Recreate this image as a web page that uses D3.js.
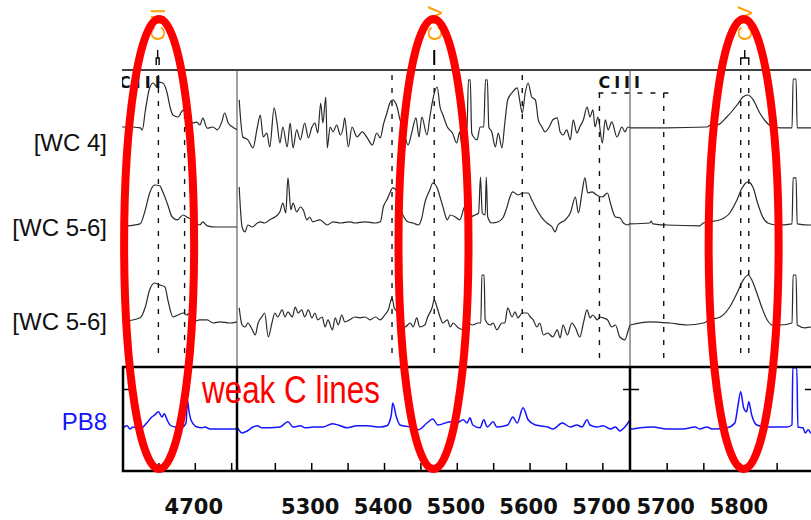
<!DOCTYPE html>
<head>
    <meta charset="utf-8">
    <title>[WC] spectra - weak C lines</title>
    <style>
        body { margin: 0; background: #fff; }
        svg { display: block; font-family: 'Liberation Sans', Arial, sans-serif; }
        .spec { fill: none; stroke: #2a2a2a; stroke-width: 1.2; }
        .pb8 { fill: none; stroke: #1414ff; stroke-width: 1.5; }
        .dash { stroke: #111; stroke-width: 1.4; stroke-dasharray: 5,8; }
        .xaxis text { font-family: 'DejaVu Sans', sans-serif; font-size: 21px; font-weight: bold; fill: #111; }
        .xaxis line, .yaxis line { stroke: #000; stroke-width: 1.5; }
        .ion { font: bold 16px 'DejaVu Sans', sans-serif; letter-spacing: 4px; fill: #111; }
    </style>
</head>
<body>

<svg width="811" height="520"></svg>

<script src="https://d3js.org/d3.v7.min.js"></script>

<script>

// wavelength windows (Angstrom) of the three cuts
var segments = [[4600, 4758], [5198, 5738], [5650, 5900]];
var tickWaves = [[4650, 4700, 4750],
    [5250, 5300, 5350, 5400, 5450, 5500, 5550, 5600, 5650, 5700],
    [5700, 5750, 5800, 5850]];
var rowLabels = ['[WC 4]', '[WC 5-6]', '[WC 5-6]'];
var pb8Label = 'PB8';

// line identifications: [segment, wavelength]
var dashedLines = [[0, 4650], [0, 4686], [1, 5411], [1, 5469], [1, 5590], [1, 5696], [2, 5696], [2, 5801], [2, 5812]];
var markSeg = [0, 1, 2];
var markWaves = [[4647, 4651], [5469], [5801, 5812]];
var markIons = ['CIII', 'CIV', 'CIV'];
var circled = [[0, 4651], [1, 5468], [2, 5805]];

// normalised flux, continuum = 1
var wc4Seg1 = [[4600,1.0],[4612,1.0],[4625,0.98],[4628,0.93],[4632,1.4],[4638,1.98],[4643,2.1],[4648,2.0],[4650,2.12],[4656,2.1],[4662,1.85],[4666,1.5],[4670,1.3],[4677,1.25],[4684,1.42],[4689,1.22],[4696,1.1],[4703,1.12],[4707,1.05],[4711,1.22],[4717,0.97],[4725,1.0],[4731,0.93],[4737,1.12],[4741,1.35],[4746,1.1],[4752,1.0],[4758,0.93]];
var wc4Seg2 = [[5201,1.68],[5206,0.75],[5213,0.68],[5220,0.48],[5226,1.0],[5230,1.3],[5234,0.75],[5239,0.85],[5243,0.5],[5249,1.48],[5253,1.1],[5257,0.6],[5261,1.0],[5267,0.5],[5271,1.1],[5275,0.48],[5280,0.93],[5285,0.68],[5291,1.1],[5296,0.73],[5301,1.0],[5305,1.1],[5309,0.85],[5313,1.6],[5316,1.1],[5320,1.75],[5322,0.48],[5326,1.0],[5330,0.88],[5335,1.05],[5340,0.8],[5344,1.0],[5346,1.23],[5351,0.5],[5356,1.0],[5363,0.75],[5370,0.88],[5377,0.73],[5384,0.55],[5390,0.85],[5395,0.73],[5399,1.05],[5404,1.35],[5408,1.6],[5412,1.68],[5418,1.5],[5422,1.18],[5426,1.0],[5433,0.55],[5438,0.85],[5444,1.23],[5448,0.75],[5452,1.25],[5459,0.8],[5463,1.25],[5467,1.68],[5473,2.0],[5477,1.5],[5481,1.3],[5487,1.0],[5494,0.85],[5500,0.6],[5504,0.88],[5507,0.55],[5511,0.93],[5514,0.93],[5516,2.18],[5518.5,2.18],[5520.5,0.85],[5523,0.75],[5528,0.68],[5532,1.0],[5537,1.0],[5539.5,2.18],[5542,2.18],[5544,1.0],[5548,0.88],[5553,0.5],[5557,0.85],[5562,0.48],[5566,1.1],[5570,1.68],[5577,1.88],[5583,1.98],[5587,1.6],[5590,1.35],[5594,1.85],[5598,2.1],[5603,1.75],[5608,1.68],[5612,1.18],[5617,1.0],[5621,0.88],[5627,1.0],[5632,1.18],[5638,1.23],[5642,0.88],[5646,0.8],[5651,0.93],[5656,0.68],[5660,1.18],[5665,0.85],[5669,1.0],[5674,1.18],[5679,1.5],[5683,1.25],[5687,1.43],[5690,1.0],[5694,1.25],[5700,0.6],[5704,1.18],[5708,0.93],[5713,1.13],[5720,0.75],[5727,1.0],[5731,0.88],[5735,1.0],[5738,0.98]];
var wc4Seg3 = [[5650,0.98],[5700,0.98],[5755,1.0],[5760,1.05],[5769,1.05],[5782,1.25],[5796,1.55],[5804,1.75],[5811,1.8],[5818,1.68],[5827,1.35],[5837,1.1],[5844,1.0],[5855,0.98],[5871,0.98],[5872.5,2.2],[5876.5,2.2],[5878,0.98],[5900,0.98]];

var wc56aSeg1 = [[4600,1.02],[4625,1.08],[4632,1.43],[4638,1.85],[4645,2.05],[4652,2.03],[4656,1.88],[4662,1.6],[4669,1.25],[4676,1.18],[4684,1.3],[4691,1.23],[4696,1.18],[4703,1.08],[4707,1.05],[4711,1.13],[4717,1.03],[4730,1.0],[4745,1.0],[4758,1.0]];
var wc56aSeg2 = [[5201,2.0],[5205,1.0],[5209,0.88],[5213,1.05],[5219,1.0],[5226,1.1],[5230,1.13],[5236,1.1],[5243,1.18],[5250,1.25],[5257,1.38],[5261,1.6],[5265,1.35],[5268,2.23],[5272,1.43],[5275,1.6],[5280,1.38],[5285,1.5],[5289,1.43],[5294,1.18],[5298,1.25],[5302,1.13],[5312,1.18],[5322,1.05],[5330,1.13],[5340,1.1],[5353,1.13],[5360,1.1],[5374,1.13],[5388,1.1],[5395,1.13],[5399,1.5],[5404,1.68],[5408,1.85],[5412,1.98],[5418,1.88],[5422,1.5],[5426,1.3],[5433,1.13],[5440,1.1],[5447,1.05],[5452,1.23],[5456,1.6],[5463,1.93],[5467,2.1],[5473,1.98],[5477,1.75],[5481,1.5],[5487,1.18],[5491,1.3],[5498,1.25],[5504,1.18],[5510,1.48],[5514,1.6],[5518,1.25],[5525,1.3],[5530,1.35],[5532.5,2.25],[5535,1.35],[5539,1.3],[5540.5,2.25],[5542.5,1.25],[5548,1.1],[5557,1.13],[5564,1.25],[5569,1.5],[5573,1.75],[5577,1.88],[5584,1.8],[5591,1.85],[5598,1.85],[5603,1.68],[5610,1.43],[5617,1.23],[5624,1.1],[5631,1.0],[5635,0.88],[5639,1.05],[5649,1.18],[5656,1.35],[5663,1.75],[5667,1.35],[5672,1.85],[5676,2.23],[5680,1.85],[5686,1.88],[5692,1.8],[5700,1.75],[5707,1.85],[5711,1.6],[5718,1.25],[5724,1.23],[5729,1.1],[5735,1.05],[5738,1.1]];
var wc56aSeg3 = [[5650,1.08],[5677,1.1],[5679,1.15],[5681,1.08],[5700,1.05],[5745,1.03],[5750,1.1],[5773,1.18],[5786,1.35],[5796,1.68],[5803,1.98],[5811,2.13],[5818,1.98],[5824,1.6],[5831,1.25],[5838,1.1],[5850,1.05],[5871,1.08],[5872.5,2.23],[5876.5,2.23],[5878,1.08],[5897,1.05],[5900,1.05]];

var wc56bSeg1 = [[4600,1.03],[4625,1.13],[4632,1.4],[4638,1.83],[4645,2.0],[4652,1.95],[4659,1.9],[4663,1.58],[4670,1.15],[4677,1.2],[4684,1.25],[4689,1.2],[4693,1.25],[4698,1.03],[4707,1.08],[4717,1.08],[4725,1.0],[4735,1.03],[4748,1.0],[4758,1.03]];
var wc56bSeg2 = [[5201,1.38],[5205,0.95],[5209,0.9],[5213,1.0],[5219,0.83],[5223,0.7],[5227,1.0],[5232,1.15],[5236,1.25],[5241,0.65],[5246,1.0],[5250,1.25],[5254,1.15],[5260,1.33],[5264,1.15],[5268,1.28],[5274,1.15],[5278,1.4],[5282,1.25],[5287,1.33],[5291,1.15],[5296,1.33],[5301,1.13],[5305,1.25],[5309,1.08],[5315,1.15],[5319,0.9],[5323,1.08],[5329,0.83],[5333,1.13],[5337,0.95],[5342,1.2],[5346,1.03],[5353,1.08],[5360,1.15],[5367,1.13],[5374,1.15],[5381,1.08],[5388,1.15],[5395,1.08],[5401,1.2],[5406,1.33],[5411,1.63],[5414,1.38],[5418,1.28],[5422,1.08],[5429,0.9],[5436,1.0],[5440,0.9],[5445,1.13],[5449,0.9],[5456,0.95],[5460,1.15],[5466,1.38],[5469,1.58],[5473,1.38],[5477,1.15],[5481,1.0],[5487,1.08],[5491,0.9],[5495,1.0],[5502,0.88],[5509,0.83],[5515,1.0],[5522,0.95],[5529,1.0],[5533,1.0],[5534.5,2.2],[5537.5,2.2],[5539,1.08],[5546,0.95],[5550,1.0],[5555,0.83],[5562,1.0],[5566,1.0],[5570,1.38],[5576,1.15],[5580,1.28],[5584,1.13],[5590,1.25],[5597,1.25],[5601,1.15],[5605,1.08],[5610,0.9],[5614,1.0],[5619,0.7],[5625,0.75],[5632,0.65],[5638,0.83],[5642,0.63],[5646,0.95],[5652,0.7],[5658,1.0],[5663,0.88],[5669,0.65],[5674,1.0],[5679,1.33],[5683,1.13],[5687,1.2],[5693,1.08],[5697,1.15],[5701,1.13],[5707,1.08],[5713,0.9],[5718,0.95],[5724,0.65],[5731,0.58],[5735,0.78],[5738,0.95]];
var wc56bSeg3 = [[5650,0.95],[5677,1.03],[5704,1.0],[5728,0.95],[5750,1.0],[5759,1.08],[5773,1.15],[5786,1.4],[5796,1.75],[5803,2.03],[5811,2.2],[5816,2.08],[5823,1.75],[5830,1.38],[5837,1.08],[5844,0.95],[5855,0.95],[5871,1.0],[5872.5,2.2],[5876.5,2.2],[5878,0.95],[5889,0.88],[5897,0.9],[5900,0.9]];

var pb8Seg1 = [[4601,1.03],[4607,1.08],[4611,1.0],[4615,1.05],[4625,1.0],[4634,1.15],[4641,1.3],[4645,1.35],[4650,1.43],[4655,1.3],[4658,1.38],[4662,1.23],[4666,1.1],[4673,1.05],[4683,1.05],[4688,1.15],[4690,1.72],[4692,1.45],[4695,1.22],[4703,1.05],[4710,1.03],[4714,1.05],[4721,1.0],[4758,1.0]];
var pb8Seg2 = [[5199,1.03],[5205,0.9],[5212,0.95],[5220,1.05],[5226,1.08],[5232,1.03],[5243,1.03],[5257,1.05],[5268,1.18],[5275,1.05],[5285,1.08],[5292,1.03],[5303,1.05],[5316,1.05],[5329,1.13],[5337,1.1],[5349,1.03],[5363,1.08],[5377,1.08],[5395,1.05],[5404,1.08],[5410,1.35],[5412,1.65],[5417,1.3],[5422,1.1],[5436,1.05],[5447,0.98],[5459,1.15],[5467,1.25],[5474,1.1],[5491,1.18],[5500,1.15],[5509,1.23],[5514,1.15],[5518,1.28],[5522,1.1],[5532,1.03],[5537,1.23],[5542,1.05],[5550,1.18],[5555,1.05],[5570,1.1],[5577,1.3],[5583,1.15],[5591,1.53],[5598,1.23],[5608,1.1],[5614,1.08],[5625,1.05],[5632,1.0],[5645,1.15],[5656,1.05],[5665,1.1],[5672,1.05],[5679,1.23],[5683,1.1],[5693,1.05],[5701,1.08],[5711,1.0],[5718,1.05],[5724,0.95],[5731,1.05],[5737,1.2]];
var pb8Seg3 = [[5650,1.0],[5653,1.0],[5664,1.03],[5681,1.05],[5700,1.0],[5722,1.0],[5739,1.05],[5745,1.0],[5755,1.05],[5762,1.0],[5782,1.03],[5793,1.15],[5797,1.55],[5801,1.93],[5805,1.53],[5809,1.43],[5812,1.68],[5816,1.35],[5823,1.1],[5837,1.05],[5864,1.05],[5871,1.1],[5872,2.53],[5877.5,2.53],[5879,1.05],[5886,1.03],[5889,0.9],[5893,0.98],[5897,0.9],[5900,0.92]];

var rows = [[wc4Seg1, wc4Seg2, wc4Seg3], [wc56aSeg1, wc56aSeg2, wc56aSeg3], [wc56bSeg1, wc56bSeg2, wc56bSeg3]];
var pb8 = [pb8Seg1, pb8Seg2, pb8Seg3];

// ---- layout
var svg = d3.select('svg');
var segPx = [[122, 237], [237, 630], [630, 813.3]];
var rowBase = [127, 227, 323];
var topY = 70, boxTop = 367, boxBottom = 471;

var x = segments.map((d, i) => d3.scaleLinear().domain(d).range(segPx[i]));
var y = rowBase.map(b => d3.scaleLinear().domain([1, 2]).range([b, b - 40]));
var yPB = d3.scaleLinear().domain([1, 2]).range([429, 389]);

var defs = svg.append('defs');
segPx.forEach((r, i) => {
    defs.append('clipPath').attr('id', 'clip' + i)
        .append('rect').attr('x', r[0]).attr('y', 0).attr('width', r[1] - r[0]).attr('height', 520);
});

// spectra of the three [WC] stars
rows.forEach((segs, r) => {
    segs.forEach((data, s) => {
        svg.append('path')
            .attr('class', 'spec')
            .attr('clip-path', 'url(#clip' + s + ')')
            .attr('d', d3.line().curve(d3.curveMonotoneX)
                .x(d => x[s](d[0]))
                .y(d => y[r](d[1]))(data));
    });
});

// dashed line positions
dashedLines.forEach(d => {
    var top = d[1] === 5696 ? 93 : 75;
    svg.append('line').attr('class', 'dash')
        .attr('x1', x[d[0]](d[1])).attr('x2', x[d[0]](d[1]))
        .attr('y1', top).attr('y2', 358);
});
svg.append('line').attr('class', 'dash')
    .attr('x1', x[1](5696) - 1).attr('x2', x[2](5696) + 6)
    .attr('y1', 93).attr('y2', 93);

// C III labels for 5696 and 4650 (cut at the panel edge)
svg.append('text').attr('class', 'ion').attr('x', x[1](5696) - 1).attr('y', 88)
    .text('CIII');
svg.append('text').attr('class', 'ion').attr('x', 119).attr('y', 88)
    .attr('clip-path', 'url(#clip0)')
    .text('CIII');

// top panel frame
svg.append('line').attr('x1', 122).attr('x2', 811).attr('y1', topY).attr('y2', topY)
    .attr('stroke', '#000').attr('stroke-width', 1.5);
[237, 630].forEach(px => {
    svg.append('line').attr('x1', px).attr('x2', px).attr('y1', topY).attr('y2', boxTop)
        .attr('stroke', '#444').attr('stroke-width', 1);
});

// PB8 panel
pb8.forEach((data, s) => {
    svg.append('path')
        .attr('class', 'pb8')
        .attr('clip-path', 'url(#clip' + s + ')')
        .attr('d', d3.line().curve(d3.curveMonotoneX)
            .x(d => x[s](d[0]))
            .y(d => yPB(d[1]))(data));
});

svg.append('rect').attr('x', 123).attr('y', boxTop).attr('width', 700).attr('height', boxBottom - boxTop)
    .attr('fill', 'none').attr('stroke', '#000').attr('stroke-width', 2.5);
[237, 630].forEach(px => {
    svg.append('line').attr('x1', px).attr('x2', px).attr('y1', boxTop).attr('y2', boxBottom)
        .attr('stroke', '#000').attr('stroke-width', 2.5);
});

// wavelength axes
x.forEach((sc, i) => {
    var ax = svg.append('g').attr('class', 'xaxis')
        .attr('transform', `translate(0,${boxBottom})`)
        .call(d3.axisBottom(sc).tickValues(tickWaves[i]).tickSize(-8).tickPadding(28)
            .tickFormat(d => d % 100 ? '' : d));
    ax.attr('font-size', 21).attr('font-family', 'DejaVu Sans');
    ax.select('.domain').remove();
    ax.selectAll('text').attr('dx', -1.5);
});

// flux ticks of the PB8 panel
function yTicks(px, axis, size) {
    var g = svg.append('g').attr('class', 'yaxis')
        .attr('transform', `translate(${px},0)`)
        .call(axis(yPB).tickValues([2]).tickSize(size).tickFormat(''));
    g.select('.domain').remove();
}
yTicks(123, d3.axisRight, 9);
yTicks(630, d3.axisLeft, 7);
yTicks(630, d3.axisRight, 9);
yTicks(813, d3.axisLeft, 8);

// row labels
rowLabels.forEach((t, i) => {
    svg.append('text').attr('x', 107).attr('y', rowBase[i] + [24, 9, 7][i])
        .attr('text-anchor', 'end').style('font-size', '24px').attr('fill', '#111')
        .text(t);
});
svg.append('text').attr('x', 107).attr('y', 430)
    .attr('text-anchor', 'end').style('font-size', '24px').attr('fill', '#1414ff')
    .text(pb8Label);

// line markers + ion names
markWaves.forEach((w, i) => {
    var sc = x[markSeg[i]];
    var xm = sc(d3.mean(w));
    if (w.length === 1) {
        svg.append('line').attr('x1', xm).attr('x2', xm).attr('y1', 50).attr('y2', 65)
            .attr('stroke', '#000').attr('stroke-width', 2);
    } else {
        svg.append('path')
            .attr('d', `M${xm},50V58M${sc(w[0])},65V58H${sc(w[1])}V65`)
            .attr('fill', 'none').attr('stroke', '#000').attr('stroke-width', 1.4);
    }
    svg.append('text')
        .attr('transform', `translate(${xm},41) rotate(-90)`)
        .attr('dy', '0.35em')
        .style('font-size', '21px').attr('fill', '#ffa200')
        .text(markIons[i]);
});

// red highlights
circled.forEach(d => {
    svg.append('ellipse')
        .attr('cx', x[d[0]](d[1])).attr('cy', 244)
        .attr('rx', 35).attr('ry', 225)
        .attr('fill', 'none').attr('stroke', '#ff0000').attr('stroke-width', 8);
});

svg.append('text').attr('x', 202).attr('y', 403)
    .attr('textLength', 178).attr('lengthAdjust', 'spacingAndGlyphs')
    .style('font-family', '"Liberation Sans Narrow", "Liberation Sans", Arial')
    .style('font-size', '38px').attr('fill', '#ff0000')
    .text('weak C lines');

</script>

</body>
